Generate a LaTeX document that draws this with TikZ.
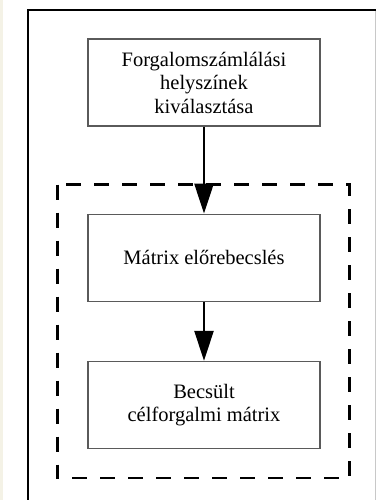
\documentclass[tikz,border=0pt]{standalone}
\usepackage{fontspec}
\setmainfont{Liberation Serif}
\usetikzlibrary{positioning,arrows.meta,calc}
\definecolor{boxEdge}{HTML}{5A5A5A}
\definecolor{paperStrip}{HTML}{F4F2E6}
\definecolor{frameGrey}{HTML}{C8C8C8}

\begin{document}
\begin{tikzpicture}[x=1pt, y=-1pt, >={Triangle[length=30pt,width=19pt]},
    stepbox/.style={draw=boxEdge, line width=1.2pt, minimum width=232pt, minimum height=87pt,
      align=center, inner sep=0pt, font=\fontsize{20.5}{23.5}\selectfont},
    flow/.style={->, line width=2.6pt}]
        \useasboundingbox (0,0) rectangle (377,500);
        \fill[paperStrip] (0,0) rectangle (2.5,500);
        \draw[frameGrey, line width=0.8pt] (375.6,10) -- (375.6,500);
        \draw[line width=2.6pt] (28,500) -- (28,10) -- (375.6,10);
        \node[stepbox] (helyszin) at (204,82.5) {Forgalomszámlálási\\helyszínek\\kiválasztása};
        \node[stepbox, below=87pt of helyszin] (eloreb) {Mátrix előrebecslés};
        \node[stepbox, below=59pt of eloreb] (celmatrix) {Becsült\\célforgalmi mátrix};
        \draw[line width=2.8pt, dash pattern=on 15pt off 13pt]
          ($(eloreb.north west)+(-30pt,29pt)$) rectangle ($(celmatrix.south east)+(29pt,-29pt)$);
        \draw[flow] (helyszin) -- (eloreb);
        \draw[flow] (eloreb) -- (celmatrix);
      \end{tikzpicture}
\end{document}
